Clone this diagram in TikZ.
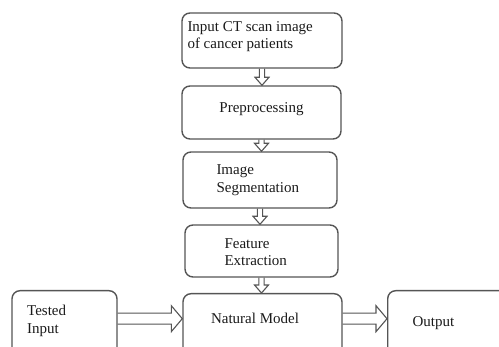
\documentclass[tikz,border=0pt]{standalone}
\usepackage{fontspec}
\setmainfont{Liberation Serif}
\usetikzlibrary{calc}
\definecolor{boxline}{HTML}{555555}
\definecolor{textink}{HTML}{1A1A1A}

\begin{document}
\begin{tikzpicture}[x=1pt, y=-1pt,
                    every node/.style={textink, font=\fontsize{15}{17.5}\selectfont},
                    stagebox/.style={draw=boxline, line width=1.4pt, rounded corners=8pt,
                                     inner sep=0pt},
                    stagetext/.style={inner sep=0pt, align=left, anchor=west},
                    downflow/.style={draw=boxline, line width=1.1pt, line join=miter,
                      to path={let \p1=(\tikztostart), \p2=(\tikztotarget) in
                        (\x1-2.6pt,\y1) -- (\x1-2.6pt,\y2+8pt) -- (\x1-7pt,\y2+8pt)
                        -- (\x1,\y2) -- (\x1+7pt,\y2+8pt) -- (\x1+2.6pt,\y2+8pt)
                        -- (\x1+2.6pt,\y1)}},
                    sideflow/.style={draw=boxline, line width=1.1pt, line join=miter,
                      to path={let \p1=(\tikztostart), \p2=(\tikztotarget) in
                        (\x1,\y1+5.5pt) -- (\x2-11pt,\y1+5.5pt) -- (\x2-11pt,\y1+13pt)
                        -- (\x2,\y1) -- (\x2-11pt,\y1-13pt) -- (\x2-11pt,\y1-5.5pt)
                        -- (\x1,\y1-5.5pt)}}]

  %% page frame
  \useasboundingbox (0,0) rectangle (499,347);
  \clip (0,0) rectangle (499,347);

  %% main column
  \node[stagebox, minimum width=160pt, minimum height=55pt] (ctscan) at (262,40.5) {};
  \node[stagetext] at ([xshift=6pt,yshift=4pt]ctscan.west) {Input CT scan image\\of cancer patients};

  \node[stagebox, minimum width=159pt, minimum height=53pt] (prep) at (261.5,112.5) {};
  \node[inner sep=0pt] at ([yshift=3pt]prep.center) {Preprocessing};

  \node[stagebox, minimum width=154pt, minimum height=56pt] (seg) at (260,180) {};
  \node[stagetext] at ([xshift=34pt]seg.west) {Image\\Segmentation};

  \node[stagebox, minimum width=153pt, minimum height=52pt] (feat) at (261.5,251) {};
  \node[stagetext] at ([xshift=40pt,yshift=-1pt]feat.west) {Feature\\Extraction};

  %% bottom row (cut by the page edge)
  \node[stagebox, anchor=north, minimum width=159pt, minimum height=70pt] (model) at (262.5,293) {};
  \node[inner sep=0pt] at (255,318) {Natural Model};

  \node[stagebox, anchor=north, minimum width=105pt, minimum height=70pt] (tested) at (64.5,290) {};
  \node[stagetext] at (27,321) {Tested\\Input};

  \node[stagebox, anchor=north west, minimum width=140pt, minimum height=70pt] (output) at (387,290) {};
  \node[inner sep=0pt] at (433.5,323) {Output};

  %% arrows
  \draw[downflow] (ctscan.south) to (ctscan.south |- prep.north);
  \draw[downflow] (prep.south) to (prep.south |- seg.north);
  \draw[downflow] (seg.south) to (seg.south |- feat.north);
  \draw[downflow] (feat.south) to (feat.south |- model.north);
  \draw[sideflow] ([yshift=7pt]tested.east) to ([yshift=7pt]tested.east -| model.west);
  \draw[sideflow] ([yshift=7pt]tested.east -| model.east) to ([yshift=7pt]tested.east -| output.west);

\end{tikzpicture}
\end{document}
